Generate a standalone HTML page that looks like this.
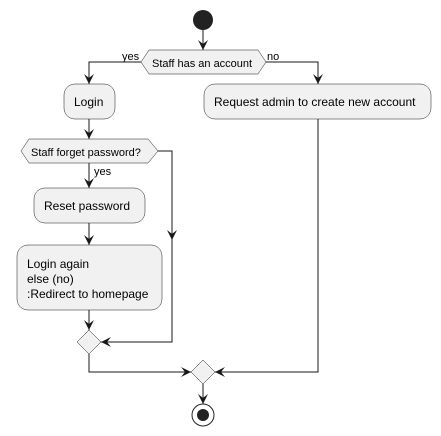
<!DOCTYPE html>
<html><head><meta charset="utf-8"><style>
html,body{margin:0;padding:0;background:#fff;}
svg{display:block;}
text{font-family:"Liberation Sans",sans-serif;fill:#000;}
</style></head><body>
<svg width="441" height="436" viewBox="0 0 441 436" xmlns="http://www.w3.org/2000/svg">
<defs>
<g id="ad"><polygon points="-5,-10 0,0 5,-10 0,-6" fill="#181818"/></g>
</defs>
<g stroke="#181818" stroke-width="1" fill="none">
<line x1="203" y1="30" x2="203" y2="50"/>
<polyline points="141,62 89,62 89,84"/>
<polyline points="266,62 318,62 318,84"/>
<line x1="89" y1="119" x2="89" y2="139"/>
<polyline points="158,151 172,151 172,342 101,342"/>
<line x1="89" y1="163" x2="89" y2="188"/>
<line x1="89" y1="223" x2="89" y2="245"/>
<line x1="89" y1="310" x2="89" y2="330"/>
<polyline points="89,354 89,372 191,372"/>
<polyline points="318,119 318,372 215,372"/>
<line x1="203" y1="384" x2="203" y2="404"/>
</g>
<circle cx="203" cy="20" r="10" fill="#222"/>
<g fill="#f1f1f1" stroke="#181818" stroke-width="0.5">
<polygon points="141,62 149,50 258,50 266,62 258,74 149,74"/>
<rect x="64" y="84" width="51" height="35" rx="11"/>
<rect x="204" y="84" width="227" height="35" rx="11"/>
<polygon points="21,151 29,139 148,139 158,151 148,163 29,163"/>
<rect x="34" y="188" width="111" height="35" rx="11"/>
<rect x="17" y="245" width="145" height="65" rx="11"/>
<polygon points="89,330 101,342 89,354 77,342"/>
<polygon points="203,360 215,372 203,384 191,372"/>
</g>
<use href="#ad" x="203" y="50"/>
<use href="#ad" x="89" y="84"/>
<use href="#ad" x="318" y="84"/>
<use href="#ad" x="89" y="139"/>
<use href="#ad" x="89" y="188"/>
<use href="#ad" x="89" y="245"/>
<use href="#ad" x="89" y="330"/>
<use href="#ad" x="172" y="240"/>
<use href="#ad" x="203" y="404"/>
<use href="#ad" transform="translate(101,342) rotate(90)"/>
<use href="#ad" transform="translate(191,372) rotate(-90)"/>
<use href="#ad" transform="translate(215,372) rotate(90)"/>
<circle cx="203" cy="415" r="11" fill="none" stroke="#222" stroke-width="1"/>
<circle cx="203" cy="415" r="6" fill="#222"/>
<g font-size="11">
<text x="152" y="67">Staff has an account</text>
<text x="122" y="60">yes</text>
<text x="267" y="60">no</text>
<text x="31" y="156">Staff forget password?</text>
<text x="94" y="175">yes</text>
</g>
<g font-size="12">
<text x="74" y="106">Login</text>
<text x="214" y="106">Request admin to create new account</text>
<text x="44" y="210">Reset password</text>
<text x="27" y="268">Login again</text>
<text x="27" y="283">else (no)</text>
<text x="27" y="298">:Redirect to homepage</text>
</g>
</svg>
</body></html>
